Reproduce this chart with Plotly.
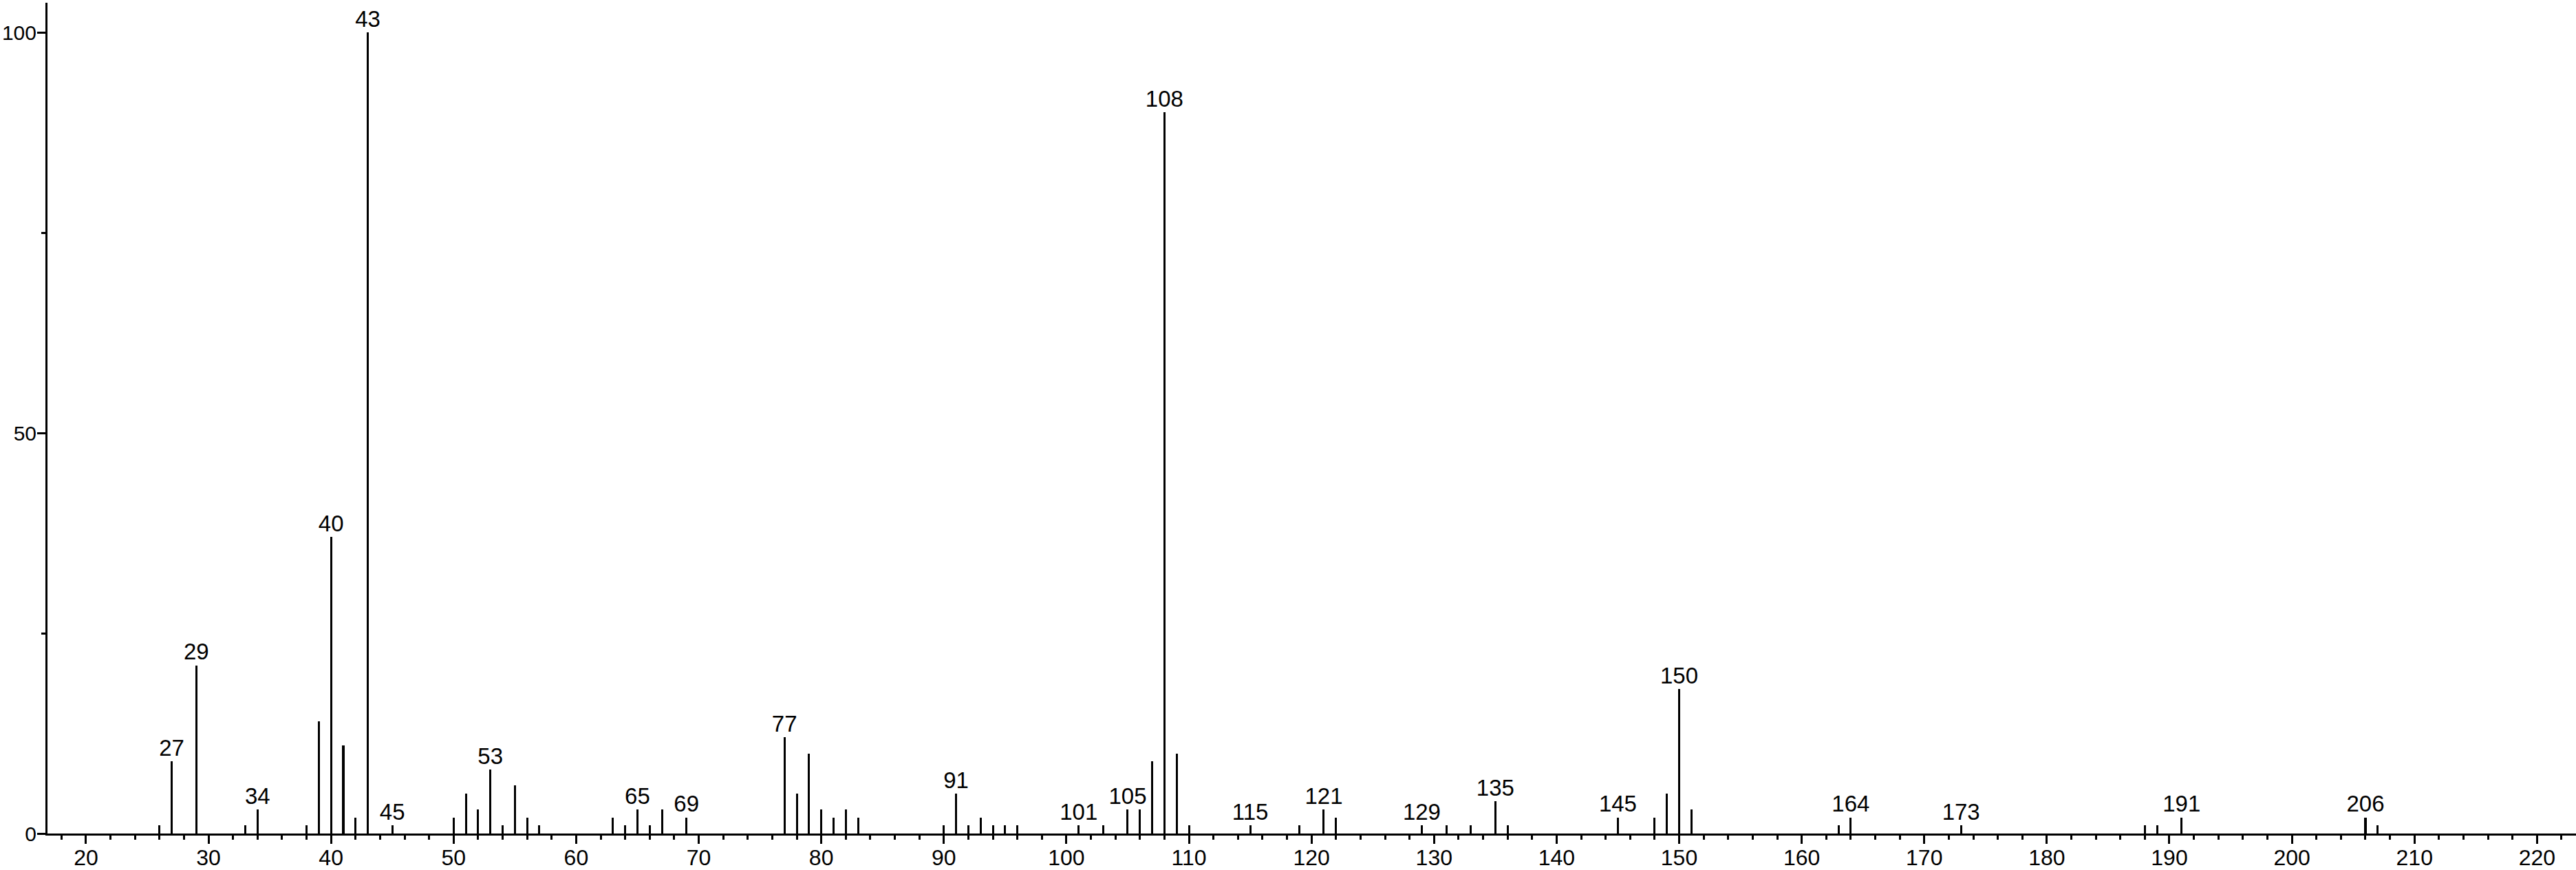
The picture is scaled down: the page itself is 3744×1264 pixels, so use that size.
import plotly.graph_objects as go

# m/z values and relative intensities
mz = [26, 27, 29, 33, 34, 38, 39, 40, 41, 42, 43, 45,
      50, 51, 52, 53, 54, 55, 56, 57, 63, 64, 65, 66, 67, 69,
      77, 78, 79, 80, 81, 82, 83, 90, 91, 92, 93, 94, 95, 96,
      101, 103, 105, 106, 107, 108, 109, 110, 115, 119, 121, 122,
      129, 131, 133, 135, 136, 145, 148, 149, 150, 151, 163, 164,
      173, 188, 189, 191, 206, 207]
intensity = [1, 9, 21, 1, 3, 1, 14, 37, 11, 2, 100, 1,
             2, 5, 3, 8, 1, 6, 2, 1, 2, 1, 3, 1, 3, 2,
             12, 5, 10, 3, 2, 3, 2, 1, 5, 1, 2, 1, 1, 1,
             1, 1, 3, 3, 9, 90, 10, 1, 1, 1, 3, 2,
             1, 1, 1, 4, 1, 2, 2, 5, 18, 3, 1, 2,
             1, 1, 1, 2, 2, 1]

# peaks that carry a label
labelled = [27, 29, 34, 40, 43, 45, 53, 65, 69, 77, 91, 101, 105, 108,
            115, 121, 129, 135, 145, 150, 164, 173, 191, 206]

x_ticks = list(range(20, 221, 10))
y_ticks = [0, 50, 100]

FONT = "Liberation Sans, Arial, sans-serif"
lookup = dict(zip(mz, intensity))

fig = go.Figure()
fig.add_trace(go.Bar(
    x=mz, y=intensity, width=0.17,
    marker=dict(color="black", line=dict(width=0)),
    hoverinfo="x+y",
))
fig.add_trace(go.Scatter(
    x=labelled, y=[lookup[m] for m in labelled],
    mode="text", text=[str(m) for m in labelled],
    textposition="top center",
    textfont=dict(family=FONT, size=33, color="black"),
    cliponaxis=False, hoverinfo="skip",
))

fig.update_layout(
    width=3744, height=1264,
    margin=dict(l=69, r=0, t=4, b=53),
    paper_bgcolor="white", plot_bgcolor="white",
    showlegend=False, bargap=0,
    font=dict(family=FONT, size=32, color="black"),
)
fig.update_xaxes(
    range=[16.86, 223.18], tickvals=x_ticks, ticks="outside",
    ticklen=12, tickwidth=3, tickcolor="black", ticklabelstandoff=-7,
    showline=True, linecolor="black", linewidth=3,
    showgrid=False, zeroline=False, automargin=False,
    minor=dict(dtick=2, tick0=0, ticks="outside", ticklen=6,
               tickwidth=3, tickcolor="black", showgrid=False),
)
fig.update_yaxes(
    range=[0, 103.7], tickvals=y_ticks, ticks="outside",
    ticklen=12, tickwidth=3, tickcolor="black",
    tickfont=dict(size=30), ticklabelstandoff=-5,
    showline=True, linecolor="black", linewidth=3,
    showgrid=False, zeroline=False, automargin=False,
    minor=dict(dtick=25, tick0=0, ticks="outside", ticklen=6,
               tickwidth=3, tickcolor="black", showgrid=False),
)

# drop the default page margin so the figure sits at the window corner
fig.write_html("out.html", config={"displayModeBar": False},
               post_script="document.body.style.margin='0';")
